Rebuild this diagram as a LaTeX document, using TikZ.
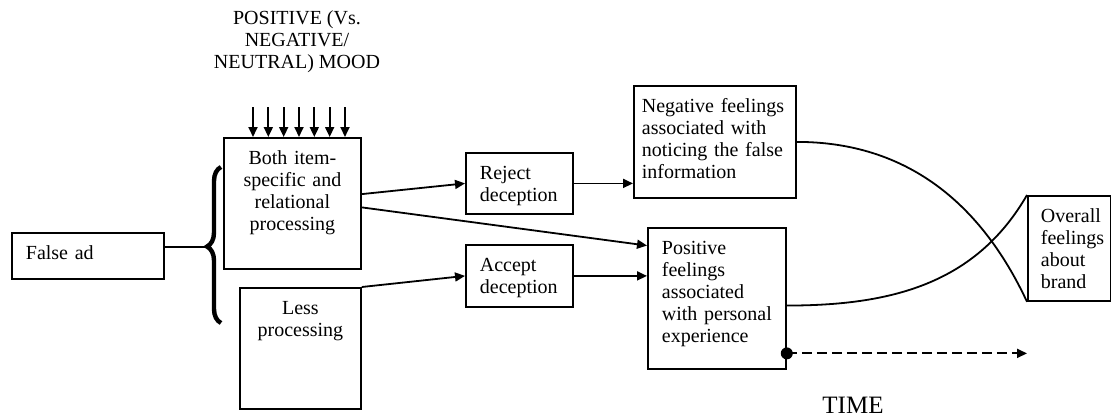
\documentclass[tikz,border=0pt]{standalone}
\usepackage{fontspec}
\setmainfont{Liberation Serif}
\usetikzlibrary{arrows.meta,calc,decorations.pathreplacing}
\tikzset{box/.style={draw,line width=0.9pt,anchor=north west,inner xsep=7pt,inner ysep=6.5pt,text height=7pt,align=left}}

\begin{document}
\begin{tikzpicture}[x=0.5pt,y=-0.5pt,>={Triangle[length=5pt,width=4.5pt]},line width=0.9pt,font=\fontsize{10}{11}\selectfont]
  \useasboundingbox (0,0) rectangle (1111,417);
  \node[box,text width=62pt,text depth=3pt] (F) at (11,232) {False ad};
  \node[box,inner xsep=4pt,text width=60.5pt,text depth=45.5pt,align=center] (B) at (223,137) {Both item-\\specific and\\relational\\processing};
  \node[box,inner xsep=4pt,text width=52.5pt,text depth=40.5pt,align=center] (L) at (239,287) {Less\\processing};
  \node[box,text width=39.5pt,text depth=10.5pt] (R) at (465,152) {Reject\\deception};
  \node[box,text width=39.5pt,text depth=11pt] (A) at (465,244) {Accept\\deception};
  \node[box,inner xsep=4pt,text width=73pt,text depth=36pt] (N) at (633,85) {Negative feelings\\associated with\\noticing the false\\information};
  \node[box,text width=55pt,text depth=50.5pt] (P) at (647,227) {Positive\\feelings\\associated\\with personal\\experience};
  \node[box,inner xsep=6.5pt,text width=28.5pt,text depth=32.5pt] (O) at (1027,195) {Overall\\feelings\\about\\brand};
  \node[align=center] (M) at (297,42) {POSITIVE (Vs.\\NEGATIVE/\\NEUTRAL) MOOD};
  \node[font=\fontsize{12.5}{14}\selectfont] (T) at (853,405) {TIME};

  \foreach \i [evaluate=\i as \xx using 253+15.33*\i] in {0,...,6}
    \draw[->] (\xx,107) -- (\xx,107 |- B.north);

  \coordinate (tip) at (207,247);
  \draw[decorate,decoration={brace,amplitude=7pt,aspect=0.49},line width=2.2pt] (221,323) -- (221,167);
  \draw (tip -| F.east) -- (tip);

  \draw[->] ($(B.north east)!0.43!(B.south east)$) -- (R.west);
  \draw[->] ($(B.north east)!0.53!(B.south east)$) -- ($(P.north west)!0.13!(P.south west)$);
  \draw[->] (L.north east) -- (A.west);
  \draw[->] (R.east) -- (R.east -| N.west);
  \draw[->] (A.east) -- (A.east -| P.west);
  \draw (N.east) to[out=0,in=115] (O.south west);
  \draw ($(P.north east)!0.55!(P.south east)$) to[out=0,in=240] (O.north west);

  \coordinate (D) at ($(P.north east)!0.885!(P.south east)$);
  \fill (D) circle (3pt);
  \draw[->,dash pattern=on 5pt off 2.5pt] (D) -- (D -| O.west);
\end{tikzpicture}
\end{document}
